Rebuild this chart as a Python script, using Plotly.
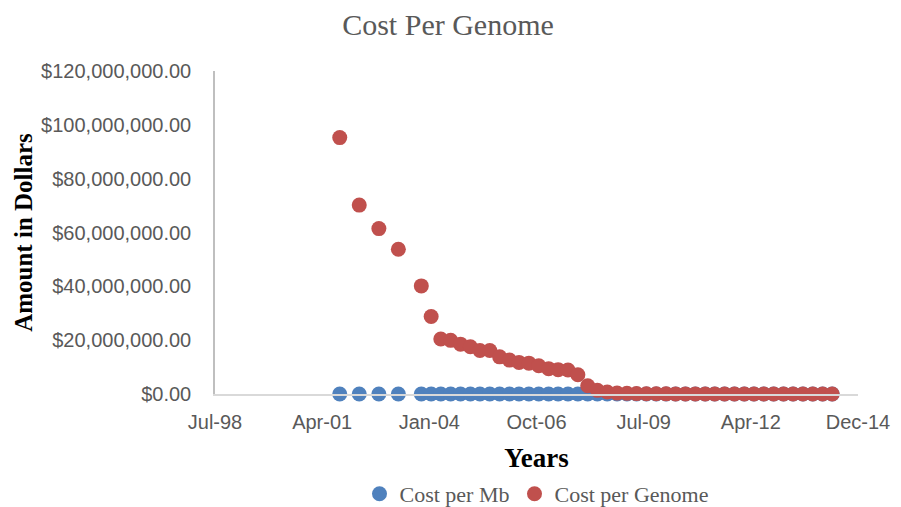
import plotly.graph_objects as go

dates = [
    "2001-09-30", "2002-03-31", "2002-09-30", "2003-03-31", "2003-10-31",
    "2004-01-31", "2004-04-30", "2004-07-31", "2004-10-31",
    "2005-01-31", "2005-04-30", "2005-07-31", "2005-10-31",
    "2006-01-31", "2006-04-30", "2006-07-31", "2006-10-31",
    "2007-01-31", "2007-04-30", "2007-07-31", "2007-10-31",
    "2008-01-31", "2008-04-30", "2008-07-31", "2008-10-31",
    "2009-01-31", "2009-04-30", "2009-07-31", "2009-10-31",
    "2010-01-31", "2010-04-30", "2010-07-31", "2010-10-31",
    "2011-01-31", "2011-04-30", "2011-07-31", "2011-10-31",
    "2012-01-31", "2012-04-30", "2012-07-31", "2012-10-31",
    "2013-01-31", "2013-04-30", "2013-07-31", "2013-10-31",
    "2014-01-31", "2014-04-30",
]

cost_per_mb = [
    5292.39, 3898.64, 3413.80, 2986.20, 2230.98,
    1598.91, 1135.70, 1107.46, 1028.85,
    974.16, 897.76, 898.90, 766.73,
    699.20, 651.81, 636.41, 581.92,
    522.71, 502.61, 495.96, 397.09,
    102.13, 15.03, 8.36, 3.81,
    2.59, 1.72, 1.20, 0.78,
    0.52, 0.35, 0.35, 0.32,
    0.23, 0.19, 0.12, 0.09,
    0.09, 0.07, 0.07, 0.06,
    0.06, 0.06, 0.06, 0.05,
    0.05, 0.04,
]

cost_per_genome = [
    95263072, 70175437, 61448422, 53751684, 40157554,
    28780376, 20442576, 19934346, 18519312,
    17534970, 16159699, 16180224, 13801124,
    12585659, 11732535, 11455315, 10474556,
    9408739, 9047003, 8927342, 7147571,
    3063820, 1352982, 752080, 342502,
    232735, 154714, 108065, 70333,
    46774, 31512, 31125, 29092,
    20963, 16712, 10497, 7743,
    7666, 5901, 6618, 5671,
    5826, 5550, 5096, 4008,
    4920, 4905,
]

x_tick_vals = ["1998-07-24", "2001-04-19", "2004-01-14", "2006-10-10",
               "2009-07-06", "2012-04-01", "2014-12-27"]
x_tick_text = ["Jul-98", "Apr-01", "Jan-04", "Oct-06", "Jul-09", "Apr-12", "Dec-14"]
y_tick_vals = [0, 20000000, 40000000, 60000000, 80000000, 100000000, 120000000]

serif = "Liberation Serif, Times New Roman, serif"
tick_font = dict(family="Liberation Sans, Arial, sans-serif", size=20, color="#595959")

fig = go.Figure()
fig.add_trace(go.Scatter(
    x=dates, y=cost_per_mb, mode="markers", name="Cost per Mb",
    marker=dict(color="#4F81BD", size=15), cliponaxis=False,
))
fig.add_trace(go.Scatter(
    x=dates, y=cost_per_genome, mode="markers", name="Cost per Genome",
    marker=dict(color="#C0504D", size=15), cliponaxis=False,
))

fig.update_layout(
    width=901, height=507,
    paper_bgcolor="white", plot_bgcolor="white",
    margin=dict(l=207, r=51, t=63, b=121, autoexpand=False),
    title=dict(text="Cost Per Genome", x=440 / 901, xanchor="center",
               xref="container",
               y=1 - 16 / 507, yanchor="middle", yref="container",
               font=dict(family=serif, size=30, color="#595959")),
    showlegend=True,
    legend=dict(orientation="h", x=0.5, xanchor="center", xref="paper",
                y=21 / 507, yanchor="middle", yref="container",
                font=dict(family=serif, size=22, color="#595959"),
                itemwidth=30, tracegroupgap=0),
    xaxis=dict(
        type="date", range=["1998-07-24", "2014-12-27"], automargin=False,
        tickmode="array", tickvals=x_tick_vals, ticktext=x_tick_text,
        showgrid=False, zeroline=False, showline=True, linecolor="#D9D9D9",
        linewidth=1.5, ticks="", tickfont=tick_font, ticklabelstandoff=9,
        title=dict(text="<b>Years</b>", standoff=30,
                   font=dict(family=serif, size=27, color="black")),
    ),
    yaxis=dict(
        range=[0, 120000000], tickmode="array", tickvals=y_tick_vals,
        automargin=False,
        tickformat="$,.2f", showgrid=False, zeroline=False,
        showline=True, linecolor="#BFBFBF", linewidth=1.5, ticks="",
        tickfont=tick_font, ticklabelstandoff=18,
        title=dict(text="<b>Amount in Dollars</b>", standoff=1,
                   font=dict(family=serif, size=25, color="black")),
    ),
)

fig.write_html("out.html")
